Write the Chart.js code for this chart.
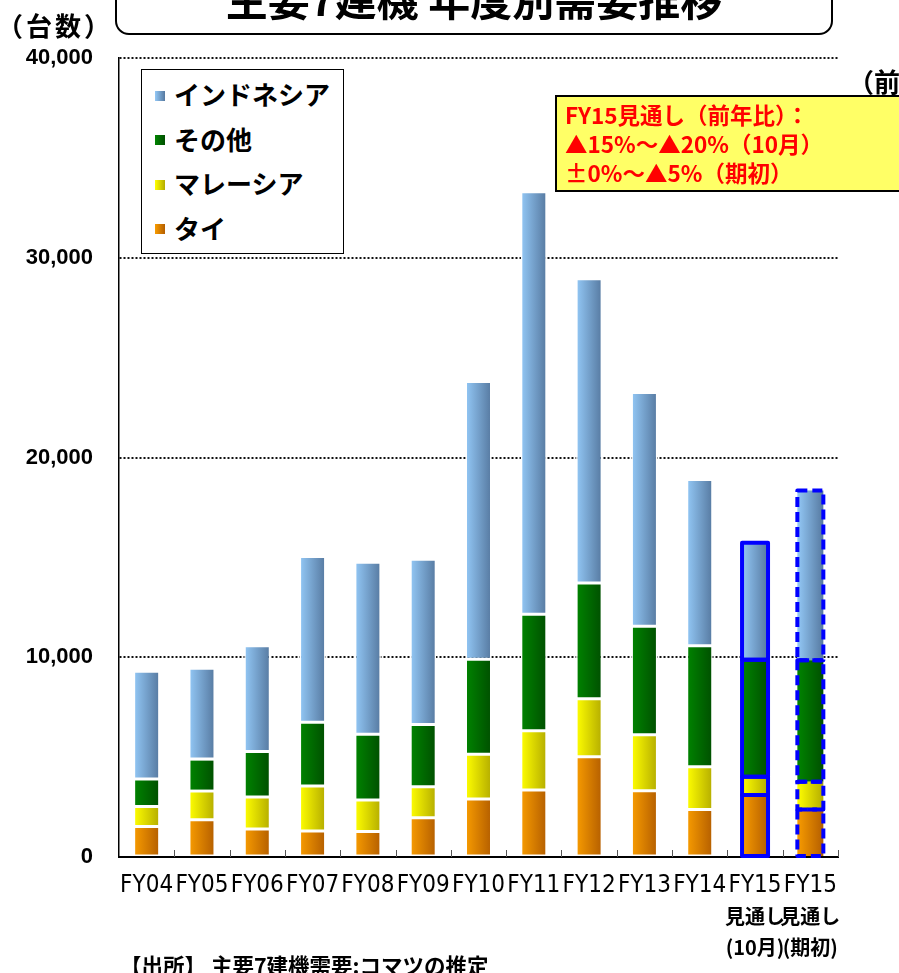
<!DOCTYPE html>
<html><head><meta charset="utf-8">
<script src="https://cdn.jsdelivr.net/npm/chart.js@4.4.0/dist/chart.umd.min.js"></script>
<style>
html,body{margin:0;padding:0;background:#fff;}
body{width:899px;height:973px;overflow:hidden;position:relative;font-family:"Noto Sans CJK JP",sans-serif;}
#c{position:absolute;left:0;top:0;}
.abs{position:absolute;white-space:nowrap;}
#titleBox{left:115px;top:-25px;width:718px;height:60px;border:2.5px solid #000;border-radius:14px;box-sizing:border-box;background:#fff;}
#titleText{left:115px;width:718px;top:-23px;text-align:center;font-weight:bold;font-size:42px;line-height:42px;color:#000;}
#unit{left:-3px;top:10px;font-weight:bold;font-size:26px;line-height:30px;letter-spacing:3px;}
#yoy{left:848px;top:66px;font-weight:bold;font-size:26px;line-height:30px;}
#legend{left:141px;top:69px;width:203px;height:185px;border:1.5px solid #000;box-sizing:border-box;background:#fff;}
.li{position:absolute;left:13px;height:30px;line-height:30px;font-weight:bold;font-size:26px;color:#000;}
.sw{display:inline-block;width:10px;height:10px;margin-right:9px;vertical-align:middle;position:relative;top:-2px;}
#note{left:555px;top:95px;width:380px;height:97px;border:2.5px solid #000;box-sizing:border-box;background:#FFFF66;}
#noteText{left:565px;top:100px;font-weight:bold;font-size:22.5px;line-height:29px;color:#FF0000;}
#source{left:120px;top:953px;font-weight:bold;font-size:21.5px;line-height:24px;color:#000;}
</style></head>
<body>
<canvas id="c" width="899" height="973"></canvas>
<div class="abs" id="titleBox"></div>
<div class="abs" id="titleText">主要7建機 年度別需要推移</div>
<div class="abs" id="unit">（台数）</div>
<div class="abs" id="yoy">（前年比）</div>
<div class="abs" id="legend"></div>
<div class="abs" id="note"></div>
<div class="abs" id="noteText">FY15見通し（前年比）：<br>▲15%～▲20%（10月）<br>±0%～▲5%（期初）</div>
<div class="abs" id="source">【出所】 主要7建機需要:コマツの推定</div>
<script>
// ---- data ----
const categories = ['FY04','FY05','FY06','FY07','FY08','FY09','FY10','FY11','FY12','FY13','FY14','FY15','FY15'];
const forecastLine1 = ['','','','','','','','','','','','見通し','見通し'];
const forecastLine2 = ['','','','','','','','','','','','(10月)','(期初)'];
const seriesNames = ['タイ','マレーシア','その他','インドネシア'];
const tai       = [1530,1870,1400,1300,1280,1970,2900,3350,5020,3320,2380,3100,2380];
const malaysia  = [1000,1430,1600,2250,1570,1550,2250,2970,2900,2800,2140, 920,1390];
const other     = [1370,1600,2280,3200,3300,3110,4750,5830,5800,5430,6050,5860,6080];
const indonesia = [5400,4550,5300,8300,8600,8270,13900,21150,15230,11700,8330,5850,8500];
const yTicks = [0,10000,20000,30000,40000];
const forecastSolidIndex = 11;
const forecastDashedIndex = 12;

// ---- styles ----
const palette = {
  'タイ': ['#F89C00','#B45E00'],
  'マレーシア': ['#FFFF00','#B4AC00'],
  'その他': ['#008400','#004F00'],
  'インドネシア': ['#93C8F6','#5679A0']
};
const BAR_PCT = 0.47;

function hasFont(name){
  const cv = document.createElement('canvas').getContext('2d');
  const probe = 'FY04FY05mmwwii';
  cv.font = '30px monospace'; const a = cv.measureText(probe).width;
  cv.font = '30px "' + name + '", monospace'; const b = cv.measureText(probe).width;
  cv.font = '30px serif'; const c2 = cv.measureText(probe).width;
  cv.font = '30px "' + name + '", serif'; const d = cv.measureText(probe).width;
  return a !== b || c2 !== d;
}
let xFont = { family: '"Liberation Sans", sans-serif', size: 23 };
if (hasFont('Liberation Sans Narrow')) xFont = { family: '"Liberation Sans Narrow"', size: 27 };
else if (hasFont('DejaVu Sans Condensed')) xFont = { family: '"DejaVu Sans Condensed"', size: 24 };

function grad(light, dark){
  return function(ctx){
    if (ctx.type !== 'data') return light;
    const chart = ctx.chart, xs = chart.scales.x;
    if (!chart.chartArea || !xs) return light;
    const cx = xs.getPixelForValue(ctx.dataIndex);
    const w = (xs.width / categories.length) * BAR_PCT;
    const g = chart.ctx.createLinearGradient(cx - w/2, 0, cx + w/2, 0);
    g.addColorStop(0, light); g.addColorStop(1, dark);
    return g;
  };
}

const legendEl = document.getElementById('legend');
seriesNames.slice().reverse().forEach((n, i) => {
  const d = document.createElement('div');
  d.className = 'li';
  d.style.top = (9 + i * 44.5) + 'px';
  const c = palette[n];
  d.innerHTML = '<span class="sw" style="background:linear-gradient(to right,' + c[0] + ',' + c[1] + ')"></span>' + n;
  legendEl.appendChild(d);
});

const seriesData = {'タイ': tai, 'マレーシア': malaysia, 'その他': other, 'インドネシア': indonesia};

const datasets = seriesNames.map(n => ({
  label: n,
  data: seriesData[n],
  backgroundColor: grad(palette[n][0], palette[n][1]),
  borderColor: '#FFFFFF',
  borderWidth: ctx => (ctx.dataIndex === forecastSolidIndex || ctx.dataIndex === forecastDashedIndex) ? 0 : 1.5,
  borderSkipped: false,
  barPercentage: BAR_PCT,
  categoryPercentage: 1.0
}));

const decoPlugin = {
  id: 'deco',
  afterDatasetsDraw(chart){
    const ctx = chart.ctx;
    const xs = chart.scales.x;
    ctx.save();
    ctx.strokeStyle = '#0000FF';
    ctx.lineWidth = 4;
    chart.data.datasets.forEach((ds, di) => {
      const meta = chart.getDatasetMeta(di);
      [forecastSolidIndex, forecastDashedIndex].forEach(idx => {
        const el = meta.data[idx];
        if (!el) return;
        const p = el.getProps(['x','y','base','width'], true);
        ctx.setLineDash(idx === forecastDashedIndex ? [10,5] : []);
        ctx.lineJoin = 'round';
        ctx.strokeRect(p.x - p.width/2, Math.min(p.y,p.base), p.width, Math.abs(p.base - p.y));
      });
    });
    ctx.restore();
    ctx.save();
    ctx.strokeStyle = '#555';
    ctx.lineWidth = 1;
    const bottom = chart.chartArea.bottom;
    for (let i = 0; i < categories.length; i++) {
      const xb = i < categories.length - 1
        ? (xs.getPixelForValue(i) + xs.getPixelForValue(i + 1)) / 2
        : chart.chartArea.right;
      const px = Math.round(xb) + 0.5;
      ctx.beginPath(); ctx.moveTo(px, bottom); ctx.lineTo(px, bottom - 7); ctx.stroke();
    }
    ctx.restore();
  },
  afterDraw(chart){
    const ctx = chart.ctx;
    const xs = chart.scales.x;
    ctx.save();
    ctx.fillStyle = '#000';
    ctx.font = 'bold 20px "Noto Sans CJK JP"';
    ctx.textAlign = 'center';
    ctx.textBaseline = 'middle';
    for (let i = 0; i < categories.length; i++) {
      const x = xs.getPixelForValue(i);
      if (forecastLine1[i]) ctx.fillText(forecastLine1[i], x, xs.top + 59);
      if (forecastLine2[i]) ctx.fillText(forecastLine2[i], x, xs.top + 90);
    }
    ctx.restore();
  }
};

new Chart(document.getElementById('c'), {
  type: 'bar',
  data: { labels: categories, datasets },
  options: {
    responsive: false,
    animation: false,
    devicePixelRatio: 1,
    layout: { padding: { left: 0, top: 58, right: 61, bottom: 0 } },
    plugins: { legend: { display: false }, tooltip: { enabled: false } },
    scales: {
      x: {
        stacked: true,
        grid: { display: false, drawTicks: false },
        border: { display: true, color: '#000', width: 2 },
        ticks: {
          autoSkip: false, maxRotation: 0, minRotation: 0,
          padding: 14, color: '#000',
          font: xFont
        },
        afterFit: s => { s.height = 116; }
      },
      y: {
        stacked: true,
        min: 0, max: 40000,
        afterBuildTicks: s => { s.ticks = yTicks.map(v => ({ value: v })); },
        grid: {
          drawTicks: false,
          color: c => c.tick && c.tick.value === 0 ? 'rgba(0,0,0,0)' : '#111',
          lineWidth: 2
        },
        border: { display: true, color: '#000', width: 1.5, dash: [2, 2] },
        ticks: {
          padding: 26, color: '#000',
          font: { family: '"Liberation Sans", Arial, sans-serif', size: 22, weight: 'bold' },
          callback: v => Number(v).toLocaleString('en-US')
        },
        afterFit: s => { s.width = 119; }
      }
    }
  },
  plugins: [decoPlugin]
});
</script>
</body></html>
